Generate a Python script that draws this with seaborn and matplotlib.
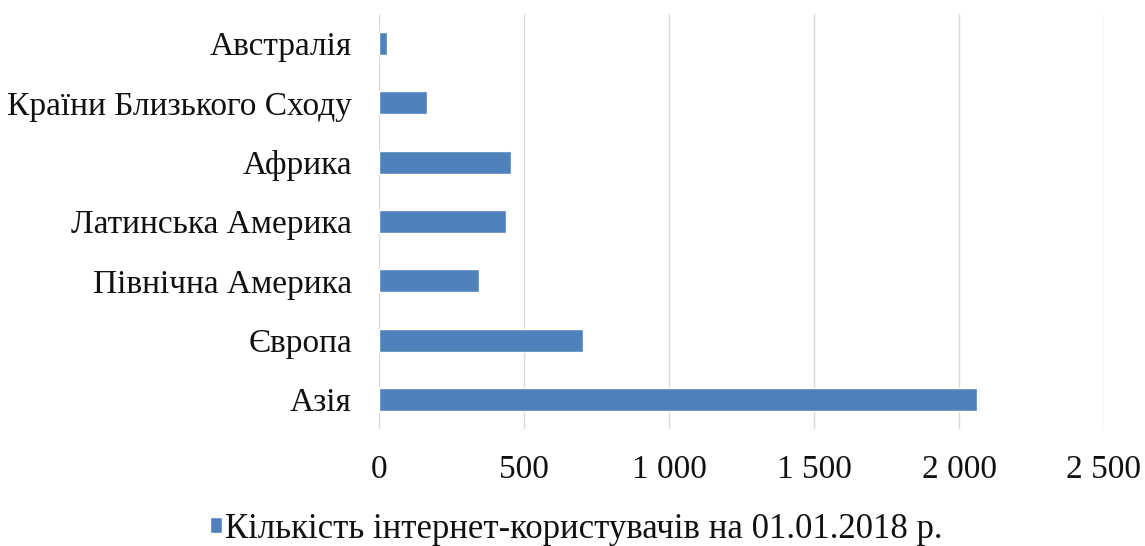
import matplotlib
matplotlib.use('Agg')
import matplotlib.pyplot as plt
import seaborn as sns
import pandas as pd

#regions, top to bottom as in the chart
regions = ['Австралія', 'Країни Близького Сходу', 'Африка', 'Латинська Америка',
           'Північна Америка', 'Європа', 'Азія']

#internet users, millions
users = [28, 164, 455, 437, 346, 705, 2062]

x_ticks = [0, 500, 1000, 1500, 2000, 2500]
x_tick_labels = ['0', '500', '1 000', '1 500', '2 000', '2 500']

legend_label = 'Кількість інтернет-користувачів на 01.01.2018 р.'

BAR_COLOR = '#4F81BD'
GRID_COLOR = '#D9D9D9'

sns.set_style('white')
plt.rcParams['font.family'] = ['Liberation Serif', 'DejaVu Serif']

df = pd.DataFrame({'region': regions, 'users': users})

fig = plt.figure(figsize=(11.45, 5.46), dpi=100)
ax = fig.add_axes([379 / 1145, 1 - 429 / 546, 725 / 1145, 415 / 546])

sns.barplot(data=df, x='users', y='region', orient='h', color=BAR_COLOR,
            width=0.39, saturation=1, label=legend_label, ax=ax)

ax.set_xlim(0, 2500)
ax.set_xticks(x_ticks)
ax.set_xticklabels(x_tick_labels)
ax.set_xlabel('')
ax.set_ylabel('')

#vertical gridlines only
ax.grid(axis='x', color=GRID_COLOR, linewidth=1)
ax.set_axisbelow(True)
for s in ax.spines.values():
    s.set_visible(False)

ax.tick_params(axis='both', length=0, labelsize=24, colors='#111111')
ax.tick_params(axis='y', pad=19.5)
ax.tick_params(axis='x', pad=18)

handles, labels = ax.get_legend_handles_labels()
if ax.get_legend():
    ax.get_legend().remove()
fig.legend(handles, labels, loc='center', bbox_to_anchor=(0.503, 17 / 546),
           frameon=False, fontsize=25, handlelength=0.35, handleheight=0.35,
           handletextpad=0.08, labelcolor='#111111', borderpad=0)

fig.savefig('out.png', dpi=100)
